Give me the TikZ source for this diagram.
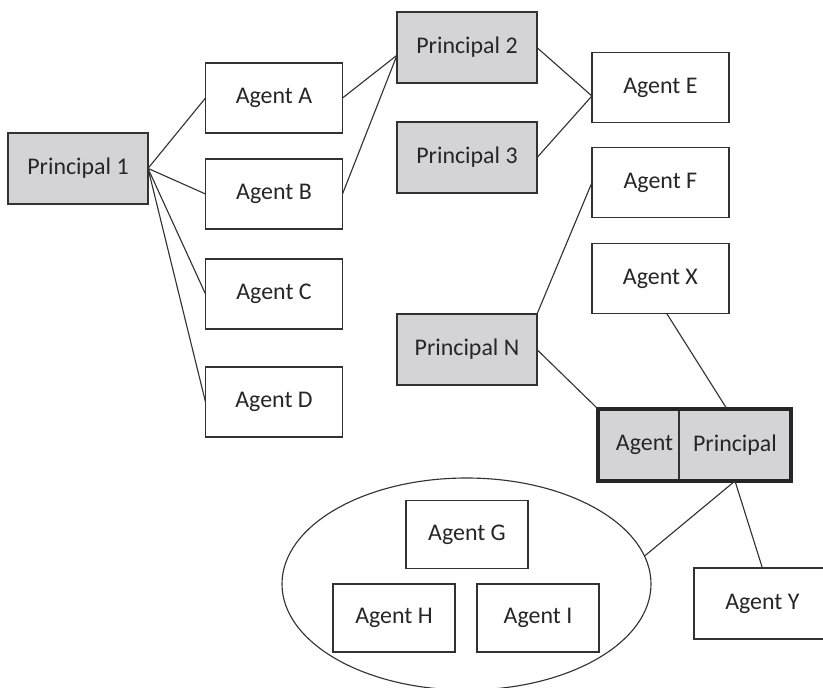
\documentclass[tikz,border=0pt]{standalone}
\usepackage{fontspec}
\setmainfont{Carlito}
\usepackage{tikz}
\usetikzlibrary{positioning}
\usetikzlibrary{shapes.geometric}
\definecolor{boxgray}{RGB}{212,212,214}
\definecolor{linegray}{RGB}{50,50,50}

\begin{document}
\begin{tikzpicture}[font=\fontsize{17}{20}\selectfont, text=black!85,
    agent/.style={draw=linegray, line width=0.9pt, fill=white, minimum width=3.425cm, minimum height=1.75cm, inner sep=0pt, outer sep=0pt},
    principal/.style={agent, fill=boxgray, minimum width=3.5cm, minimum height=1.775cm},
    member/.style={agent, minimum width=3.05cm, minimum height=1.7cm},
    link/.style={draw=linegray, line width=0.8pt}]

    \useasboundingbox (0,0) rectangle (20.575,-17.2);

    % group round G, H, I
    \node [draw=linegray, line width=0.8pt, ellipse, minimum width=9.225cm, minimum height=5.3cm, inner sep=0pt] (grp) at (11.6625,-14.6) {};

    \node [principal] (p1) at (1.95,-4.21) {Principal 1};
    \node [agent] (agA) at (6.85,-2.45) {Agent A};
    \node [agent, below=0.65cm of agA] (agB) {Agent B};
    \node [agent, below=0.75cm of agB] (agC) {Agent C};
    \node [agent, below=0.95cm of agC] (agD) {Agent D};

    \node [principal] (p2) at (11.675,-1.19) {Principal 2};
    \node [principal, below=0.975cm of p2] (p3) {Principal 3};
    \node [principal] (pN) at (11.675,-8.74) {Principal N};

    \node [agent] (agE) at (16.51,-2.19) {Agent E};
    \node [agent, below=0.625cm of agE] (agF) {Agent F};
    \node [agent, below=0.65cm of agF] (agX) {Agent X};

    % agent and principal at once
    \node [agent, fill=boxgray, minimum width=2.025cm, minimum height=1.8cm] (apA) at (15.9625,-11.125) {\hspace{0.3cm}Agent};
    \node [agent, fill=boxgray, minimum width=2.8cm, minimum height=1.8cm, right=0pt of apA] (apP) {Principal};
    \draw [black!85, line width=2.6pt] (apA.north west) rectangle (apP.south east);

    \node [member] (agG) at (11.675,-13.3625) {Agent G};
    \node [member] (agH) at (9.85,-15.45) {Agent H};
    \node [member, right=0.55cm of agH] (agI) {Agent I};

    \node [agent, minimum height=1.775cm] (agY) at (19.06,-15.09) {Agent Y};

    \draw [link] (p1.east) -- (agA.west);
    \draw [link] (p1.east) -- (agB.west);
    \draw [link] (p1.east) -- (agC.west);
    \draw [link] (p1.east) -- (agD.west);

    \draw [link] (agA.east) -- ([yshift=-0.19cm]p2.west);
    \draw [link] (agB.east) -- ([yshift=-0.19cm]p2.west);
    \draw [link] (p2.east) -- ([yshift=-0.21cm]agE.west);
    \draw [link] (p3.east) -- ([yshift=-0.21cm]agE.west);

    \draw [link] (pN.north east) -- (agF.west);
    \draw [link] (pN.east) -- (apA.north west);
    \draw [link] ([xshift=0.16cm]agX.south) -- ([xshift=-0.2cm]apP.north);
    \draw [link] (apP.south) -- (grp.9);
    \draw [link] (apP.south) -- (agY.north);

\end{tikzpicture}
\end{document}
